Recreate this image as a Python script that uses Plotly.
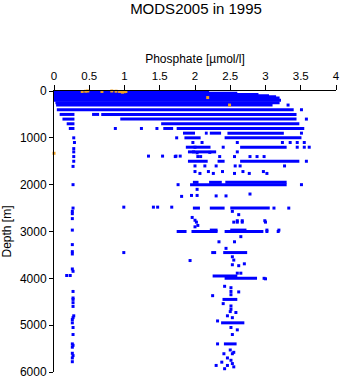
import plotly.graph_objects as go

# Phosphate (umol/l) profiles, MODS2005, year 1995

# Standard-level bands: depth (m), lowest and highest phosphate seen at that level
band_depth = [0, 10, 20, 30, 50, 75, 100, 125, 150, 200, 250, 300,
              400, 500, 500, 500, 600, 600, 700, 700, 800, 800, 800,
              900, 900, 900, 900, 1000, 1000, 1200, 1200, 1300, 1500, 1500, 1500,
              1950, 1950, 1950, 2000, 2500, 2500, 2500,
              2970, 2970, 3000, 3000, 3000, 3450, 3450, 3950, 4000, 4450, 4950, 5400]
band_lo = [0.0, 0.0, 0.0, 0.0, 0.0, 0.0, 0.0, 0.0, 0.0, 0.0, 0.02, 0.03,
           0.04, 0.08, 0.54, 0.67, 0.12, 0.94, 0.18, 1.52, 0.21, 1.55, 1.74,
           1.83, 2.14, 2.21, 2.46, 1.85, 2.42, 1.87, 2.64, 1.90, 1.90, 2.32, 2.64,
           1.97, 2.20, 2.43, 1.93, 1.97, 2.21, 2.50,
           2.21, 2.50, 1.74, 1.95, 2.42, 2.23, 2.40, 2.25, 2.42, 2.39, 2.37, 2.41]
band_hi = [1.98, 2.00, 2.05, 2.20, 2.60, 2.90, 3.05, 3.15, 3.20, 3.22, 3.20, 3.10,
           3.40, 0.29, 0.64, 3.44, 0.29, 3.44, 0.29, 3.48, 0.29, 1.69, 3.55,
           2.00, 2.18, 2.37, 3.26, 2.08, 3.51, 2.22, 3.30, 2.30, 2.18, 2.42, 3.48,
           2.05, 2.38, 3.30, 3.30, 2.07, 2.42, 3.06,
           2.32, 2.73, 1.88, 2.32, 2.97, 2.30, 2.74, 2.60, 2.88, 2.60, 2.70, 2.59]

# Individual observations away from the standard-level bands
pt_phos = [3.32, 3.51, 3.58, 0.87, 1.24, 1.46, 3.51,
           0.28, 1.74, 0.29, 1.97, 2.10, 2.60, 3.24, 3.35, 3.45, 3.55,
           0.28, 2.00, 2.40, 3.45, 3.55, 3.62, 0.28,
           0.28, 1.34, 1.54, 1.73, 1.79, 1.72, 2.04, 2.08, 2.35, 2.56, 2.78, 2.88, 2.98,
           0.28, 3.58, 0.27, 2.00, 2.14, 2.30, 2.57, 2.64, 3.27,
           2.00, 2.07, 2.19, 2.26, 2.39, 2.56, 2.68, 2.77, 2.97, 3.02,
           1.98, 2.03, 2.21, 2.60,
           0.27, 1.76, 3.51, 2.03, 1.81, 1.95, 2.03, 2.30, 2.44, 2.78,
           0.27, 0.99, 1.41, 1.47, 1.67, 3.12, 3.33,
           0.26, 2.53, 0.26, 2.62, 2.60, 2.67, 2.99, 0.26, 1.96, 2.00,
           2.02, 2.04, 2.00, 2.55, 2.60, 2.67, 3.00,
           0.26, 3.02, 3.19, 1.85, 3.02, 3.18,
           2.34, 2.56, 2.65, 0.26, 2.44, 0.26, 0.26, 0.99,
           2.53, 2.55, 2.53, 2.70, 2.62, 1.93,
           0.26, 0.27, 2.60, 2.65, 0.18, 0.23, 2.98, 3.00,
           2.42, 2.51, 2.51, 2.62, 2.51, 2.25, 0.27,
           0.27, 0.27, 0.27, 0.27, 2.40, 2.51, 2.51, 2.58, 2.50,
           0.28, 0.27, 0.26, 2.46, 2.53, 2.32, 0.26,
           0.27, 0.27, 2.51, 2.60, 2.53,
           0.26, 0.27, 0.26, 2.32, 2.50,
           0.26, 0.27, 0.26, 0.26, 2.41, 2.53, 2.55, 2.46, 2.51, 2.38,
           2.30, 2.46, 2.53, 2.55, 2.42]
pt_depth = [300, 400, 600, 800, 800, 800, 900,
            1000, 1000, 1100, 1100, 1100, 1100, 1100, 1100, 1100, 1100,
            1230, 1200, 1200, 1200, 1200, 1200, 1300,
            1400, 1390, 1390, 1390, 1390, 1400, 1400, 1400, 1400, 1400, 1400, 1400, 1400,
            1500, 1500, 1610, 1600, 1600, 1600, 1600, 1600, 1600,
            1720, 1760, 1720, 1760, 1720, 1760, 1720, 1760, 1720, 1760,
            1300, 1320, 1310, 1300,
            2000, 2000, 2000, 2100, 2250, 2230, 2230, 2240, 2240, 2200,
            2500, 2480, 2480, 2480, 2480, 2500, 2500,
            2570, 2570, 2620, 2640, 2770, 2770, 2770, 2725, 2700, 2760,
            2800, 2870, 2900, 2800, 2800, 2800, 2800,
            2970, 2970, 2970, 3000, 3000, 3000,
            3220, 3220, 3110, 3280, 3360, 3430, 3480, 3450,
            3540, 3610, 3710, 3690, 3730, 3620,
            3800, 3850, 3890, 3890, 3940, 3940, 4000, 4010,
            4170, 4200, 4280, 4290, 4350, 4370, 4280,
            4420, 4450, 4520, 4600, 4540, 4590, 4660, 4730, 4710,
            4800, 4840, 4880, 4800, 4840, 4910, 4950,
            5050, 5200, 5050, 5100, 5200,
            5400, 5430, 5470, 5400, 5530,
            5600, 5650, 5700, 5780, 5610, 5610, 5580, 5700, 5750, 5790,
            5860, 5860, 5820, 5890, 5930]

# Surface samples from the second source
org_phos = [0.40, 0.45, 0.48, 0.68, 0.82, 0.88, 0.93, 0.97, 1.00, 1.02, 2.18, 2.49, 0.00]
org_depth = [10, 5, 0, 10, 0, 5, 10, 25, 15, 10, 140, 300, 1330]

BLUE = "#0000ff"
ORANGE = "#f0a020"

# Bands are drawn as thick horizontal strokes, one segment per level
seg_x, seg_y = [], []
for d, lo, hi in zip(band_depth, band_lo, band_hi):
    seg_x += [lo, hi, None]
    seg_y += [d, d, None]

fig = go.Figure()
fig.add_trace(go.Scatter(x=seg_x, y=seg_y, mode="lines",
                         line=dict(color=BLUE, width=3),
                         connectgaps=False, cliponaxis=False,
                         hoverinfo="skip", showlegend=False))
fig.add_trace(go.Scatter(x=pt_phos, y=pt_depth, mode="markers",
                         marker=dict(symbol="square", size=3, color=BLUE,
                                     line=dict(width=0)),
                         cliponaxis=False, showlegend=False))
fig.add_trace(go.Scatter(x=org_phos, y=org_depth, mode="markers",
                         marker=dict(symbol="square", size=3, color=ORANGE,
                                     line=dict(width=0)),
                         cliponaxis=False, showlegend=False))

font = "Liberation Sans, Arial, Helvetica, sans-serif"
fig.update_layout(
    width=345, height=384,
    margin=dict(l=54, r=5, t=91, b=9),
    paper_bgcolor="white", plot_bgcolor="white",
    font=dict(family=font, color="black", size=12),
    title=dict(text="MODS2005 in 1995", x=196 / 345, xanchor="center",
               y=1 - 9 / 384, yanchor="middle", yref="container",
               font=dict(size=15, family=font, color="black")),
    xaxis=dict(side="top", range=[0, 4], tickvals=[0, 0.5, 1, 1.5, 2, 2.5, 3, 3.5, 4],
               ticktext=["0", "0.5", "1", "1.5", "2", "2.5", "3", "3.5", "4"],
               showline=True, linecolor="black", linewidth=1,
               ticks="outside", ticklen=5, tickcolor="black",
               showgrid=False, zeroline=False,
               tickfont=dict(size=11.5),
               title=dict(text="Phosphate [µmol/l]", standoff=4,
                          font=dict(size=12))),
    yaxis=dict(range=[6000, 0], tickvals=[0, 1000, 2000, 3000, 4000, 5000, 6000],
               showline=True, linecolor="black", linewidth=1,
               ticks="outside", ticklen=4, tickcolor="black",
               showgrid=False, zeroline=False,
               tickfont=dict(size=12),
               title=dict(text="Depth [m]", standoff=6, font=dict(size=12))),
)

fig.write_html("out.html")
